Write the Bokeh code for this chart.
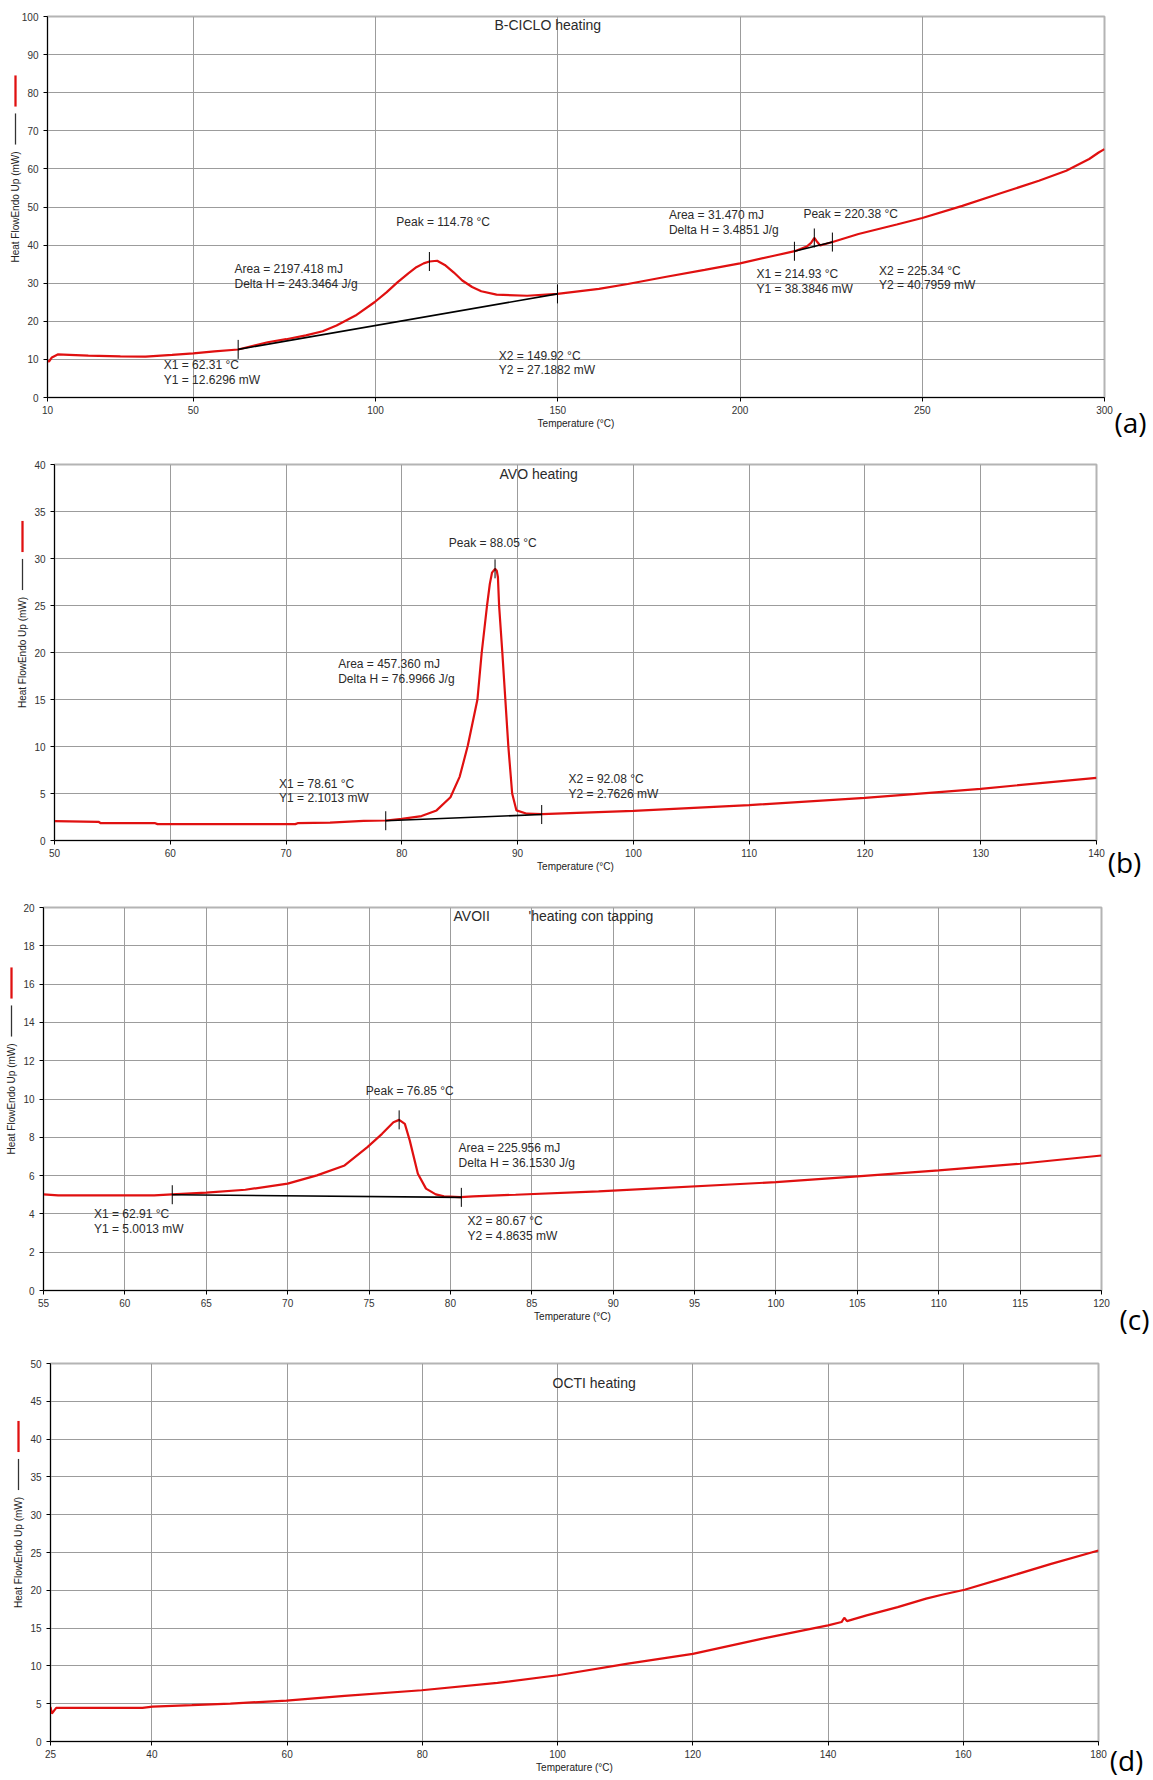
import numpy as np
from bokeh.plotting import figure
from bokeh.models import Range1d, FixedTicker, Label
from bokeh.layouts import column
from bokeh.embed import file_html
from bokeh.resources import INLINE

# ---------------- data ----------------
# (a) B-CICLO heating
A_T = [10, 10.4, 11.2, 12.8, 16, 21.2, 30, 36.9, 44.2, 50, 55.8, 62.3, 70.4, 75.5, 80.9, 85.5, 89.3, 94.5,
       99.7, 103, 106, 109, 111.2, 113.2, 114.8, 116.9, 119, 121.5, 123.8, 126.5, 129, 133.2, 141.6,
       149.9, 161.3, 169.2, 179.8, 190.3, 200, 209.3, 215, 218.3, 219.5, 220.4, 221.2, 222, 225.4,
       232.5, 243, 250, 261, 271.5, 282, 289.5, 295.8, 298.4, 300]
A_HF = [9.7, 9.4, 10.5, 11.3, 11.2, 11.0, 10.8, 10.75, 11.2, 11.6, 12.1, 12.6, 14.5, 15.3, 16.3, 17.4,
        18.9, 21.5, 25.0, 27.6, 30.2, 32.6, 34.2, 35.2, 35.7, 35.9, 34.8, 32.8, 30.7, 29.0, 27.9, 27.0,
        26.7, 27.2, 28.5, 29.8, 31.7, 33.5, 35.2, 37.2, 38.4, 39.6, 40.6, 41.9, 40.8, 39.9, 40.8,
        42.9, 45.4, 47.1, 50.3, 53.6, 56.9, 59.5, 62.6, 64.3, 65.2]
A_XTICKS = [10, 50, 100, 150, 200, 250, 300]
A_YTICKS = [0, 10, 20, 30, 40, 50, 60, 70, 80, 90, 100]
A_EVENTS = [
    dict(x1=62.31, y1=12.6296, x2=149.92, y2=27.1882, peak=114.78, area=2197.418, dh=243.3464),
    dict(x1=214.93, y1=38.3846, x2=225.34, y2=40.7959, peak=220.38, area=31.470, dh=3.4851),
]

# (b) AVO heating
B_T = [50, 53.8, 54, 58.7, 58.9, 70.8, 71, 73.8, 76.7, 78.6, 80, 81.7, 83, 84.2, 85, 85.7, 86.53,
       86.9, 87.36, 87.6, 87.79, 88.05, 88.2, 88.3, 88.4, 88.68, 88.94, 89.2, 89.53, 89.9, 90.8, 92.1,
       100, 110, 120, 130, 140]
B_HF = [2.06, 1.99, 1.84, 1.84, 1.74, 1.74, 1.84, 1.91, 2.09, 2.13, 2.3, 2.6, 3.2, 4.6, 6.8, 10.1, 15.0,
        20.0, 25.0, 27.3, 28.5, 28.9, 28.7, 28.0, 25.0, 20.0, 15.0, 10.0, 5.0, 3.2, 2.85, 2.8, 3.16,
        3.76, 4.54, 5.5, 6.67]
B_XTICKS = [50, 60, 70, 80, 90, 100, 110, 120, 130, 140]
B_YTICKS = [0, 5, 10, 15, 20, 25, 30, 35, 40]
B_EVENTS = [
    dict(x1=78.61, y1=2.1013, x2=92.08, y2=2.7626, peak=88.05, area=457.360, dh=76.9966),
]

# (c) AVOII heating con tapping
C_T = [55, 55.9, 61.8, 62.9, 65, 67.4, 70, 71.8, 73.5, 74.9, 75.8, 76.5, 76.85, 77.2, 77.5, 78.0,
       78.5, 79.1, 79.6, 80.6, 81.4, 84.0, 89.1, 100, 105, 110, 115, 120]
C_HF = [5.02, 4.97, 4.97, 5.02, 5.11, 5.26, 5.58, 6.01, 6.53, 7.49, 8.18, 8.79, 8.91, 8.7, 7.84, 6.1,
        5.32, 5.02, 4.92, 4.88, 4.92, 5.0, 5.18, 5.66, 5.96, 6.27, 6.62, 7.05]
C_XTICKS = [55, 60, 65, 70, 75, 80, 85, 90, 95, 100, 105, 110, 115, 120]
C_YTICKS = [0, 2, 4, 6, 8, 10, 12, 14, 16, 18, 20]
C_EVENTS = [
    dict(x1=62.91, y1=5.0013, x2=80.67, y2=4.8635, peak=76.85, area=225.956, dh=36.1530),
]

# (d) OCTI heating
D_T = [25, 25.2, 25.85, 29, 38.6, 40.1, 45.9, 51.6, 59.9, 68.5, 79.9, 91.1, 100, 110.4, 120, 130.3,
       140, 142, 142.4, 142.8, 145.7, 150.3, 154.5, 157, 160.2, 166.5, 173, 180]
D_HF = [4.58, 3.7, 4.45, 4.45, 4.45, 4.62, 4.8, 5.02, 5.41, 6.03, 6.78, 7.75, 8.76, 10.3, 11.6, 13.6,
        15.36, 15.8, 16.37, 15.93, 16.68, 17.78, 18.9, 19.45, 20.07, 21.74, 23.5, 25.26]
D_XTICKS = [25, 40, 60, 80, 100, 120, 140, 160, 180]
D_YTICKS = [0, 5, 10, 15, 20, 25, 30, 35, 40, 45, 50]

X_LABEL = "Temperature (°C)"
Y_LABEL = "Heat FlowEndo Up (mW)"

# ---------------- styling / layout ----------------
RED = "#e01010"
TXT = "#2a2a2a"
FONT = "Liberation Sans"
PAGE_W = 1153

panels = [
    dict(letter="(a)", T=A_T, HF=A_HF, xr=(10, 300), yr=(0, 100), xt=A_XTICKS, yt=A_YTICKS,
         events=A_EVENTS, origin=0, height=440, frame=(47, 1104, 16, 397),
         titles=[("B-CICLO heating", 494, 24)], letter_pos=(1130, 421),
         ann=[dict(peak=(105.7, 46.1), area=(61.3, 33.7, 29.8), x1=(41.9, 8.6, 4.7), x2=(133.8, 11.0, 7.1)),
              dict(peak=(217.4, 48.2), area=(180.5, 47.9, 44.0), x1=(204.5, 32.3, 28.5), x2=(238.1, 33.3, 29.4))]),
    dict(letter="(b)", T=B_T, HF=B_HF, xr=(50, 140), yr=(0, 40), xt=B_XTICKS, yt=B_YTICKS,
         events=B_EVENTS, origin=440, height=440, frame=(54, 1096, 464, 840),
         titles=[("AVO heating", 499, 473)], letter_pos=(1124, 861),
         ann=[dict(peak=(84.06, 31.6), area=(74.5, 18.8, 17.2), x1=(69.4, 6.06, 4.47), x2=(94.4, 6.49, 5.0))]),
    dict(letter="(c)", T=C_T, HF=C_HF, xr=(55, 120), yr=(0, 20), xt=C_XTICKS, yt=C_YTICKS,
         events=C_EVENTS, origin=880, height=460, frame=(43, 1101, 907, 1290),
         titles=[("AVOII", 453, 915), ("'heating con tapping", 528, 915)], letter_pos=(1134, 1318),
         ann=[dict(peak=(74.8, 10.4), area=(80.5, 7.44, 6.65), x1=(58.1, 4.01, 3.23), x2=(81.05, 3.63, 2.83))]),
    dict(letter="(d)", T=D_T, HF=D_HF, xr=(25, 180), yr=(0, 50), xt=D_XTICKS, yt=D_YTICKS,
         events=[], origin=1340, height=438, frame=(50, 1098, 1363, 1741),
         titles=[("OCTI heating", 552, 1382)], letter_pos=(1126, 1759), ann=[]),
]


def make_panel(sp):
    L, R, Tp, B = sp["frame"]
    xr, yr = sp["xr"], sp["yr"]
    org, h = sp["origin"], sp["height"]
    bb = h - (B - org)

    def to_data(px, py):
        x = xr[0] + (px - L) / (R - L) * (xr[1] - xr[0])
        y = yr[0] + (B - py) / (B - Tp) * (yr[1] - yr[0])
        return x, y

    p = figure(width=PAGE_W, height=h, output_backend="svg", toolbar_location=None,
               x_range=Range1d(*xr), y_range=Range1d(*yr),
               min_border_left=L, min_border_right=PAGE_W - R,
               min_border_top=Tp - org, min_border_bottom=bb)
    p.background_fill_color = "white"
    p.border_fill_color = "white"
    p.outline_line_color = "#b4b4b4"
    p.outline_line_width = 2

    for ax, ticks in ((p.xaxis[0], sp["xt"]), (p.yaxis[0], sp["yt"])):
        ax.ticker = FixedTicker(ticks=ticks)
        ax.axis_line_color = "black"
        ax.axis_line_width = 1
        ax.major_tick_line_color = "black"
        ax.major_tick_out = 4
        ax.major_tick_in = 0
        ax.minor_tick_line_color = None
        ax.major_label_text_font = FONT
        ax.major_label_text_font_size = "10px"
        ax.major_label_text_color = "#333333"
    p.xaxis.major_label_standoff = 4
    p.yaxis.major_label_standoff = 5

    p.xgrid.ticker = FixedTicker(ticks=sp["xt"])
    p.ygrid.ticker = FixedTicker(ticks=sp["yt"])
    for g in (p.xgrid[0], p.ygrid[0]):
        g.grid_line_color = "#9c9c9c"
        g.grid_line_width = 1

    # curve
    p.line(sp["T"], sp["HF"], line_color=RED, line_width=2.2)

    tick_half = 9.5 * (yr[1] - yr[0]) / (B - Tp)

    def text(x, y, s, size="12px", align="left", font=FONT, color=TXT, angle=0.0, place="center", **kw):
        p.add_layout(Label(x=x, y=y, text=s, text_font=font, text_font_size=size,
                           text_color=color, text_align=align, text_baseline="middle",
                           angle=angle, **kw), place)

    for ev, an in zip(sp["events"], sp["ann"]):
        p.line([ev["x1"], ev["x2"]], [ev["y1"], ev["y2"]], line_color="black", line_width=1.6)
        ypk = float(np.interp(ev["peak"], sp["T"], sp["HF"]))
        xs = [ev["x1"], ev["x2"], ev["peak"]]
        ys = [ev["y1"], ev["y2"], ypk]
        p.segment(x0=xs, x1=xs, y0=[v - tick_half for v in ys], y1=[v + tick_half for v in ys],
                  line_color="black", line_width=1)
        text(an["peak"][0], an["peak"][1], f"Peak = {ev['peak']:.2f} °C")
        text(an["area"][0], an["area"][1], f"Area = {ev['area']:.3f} mJ")
        text(an["area"][0], an["area"][2], f"Delta H = {ev['dh']:.4f} J/g")
        text(an["x1"][0], an["x1"][1], f"X1 = {ev['x1']:.2f} °C")
        text(an["x1"][0], an["x1"][2], f"Y1 = {ev['y1']:.4f} mW")
        text(an["x2"][0], an["x2"][1], f"X2 = {ev['x2']:.2f} °C")
        text(an["x2"][0], an["x2"][2], f"Y2 = {ev['y2']:.4f} mW")

    # titles inside plot
    for s, px, py in sp["titles"]:
        x, y = to_data(px, py)
        text(x, y, s, size="14px")

    # x-axis title (side panel so that it is not clipped to the frame)
    x, y = to_data((L + R) / 2, B + 26)
    text(x, y, X_LABEL, size="10px", align="center", color="#222222",
         place="below" if bb >= 36 else "above")

    # y-axis title + legend marks
    cy = (Tp + B) / 2
    x, y = to_data(L - 32, cy)
    text(x, y, Y_LABEL, size="10px", align="center", color="#222222", angle=np.pi / 2, place="left")
    x, y = to_data(L - 32, cy - 116)
    text(x, y, "\u00a0", size="1px", align="center", place="right",
         background_fill_color=RED, background_fill_alpha=1.0,
         padding=dict(left=1, right=1, top=15, bottom=15))
    x, y = to_data(L - 32, cy - 78)
    text(x, y, "\u00a0", size="1px", align="center", place="right",
         background_fill_color="#333333", background_fill_alpha=1.0,
         padding=dict(left=1, right=0, top=15, bottom=15))

    # panel letter
    x, y = to_data(*sp["letter_pos"])
    text(x, y, sp["letter"], size="28px", align="center", font="Open Sans", color="black", place="right")
    return p


figs = [make_panel(sp) for sp in panels]
layout = column(*[column(f) for f in figs], spacing=0)
open("out.html", "w").write(file_html(layout, INLINE))
